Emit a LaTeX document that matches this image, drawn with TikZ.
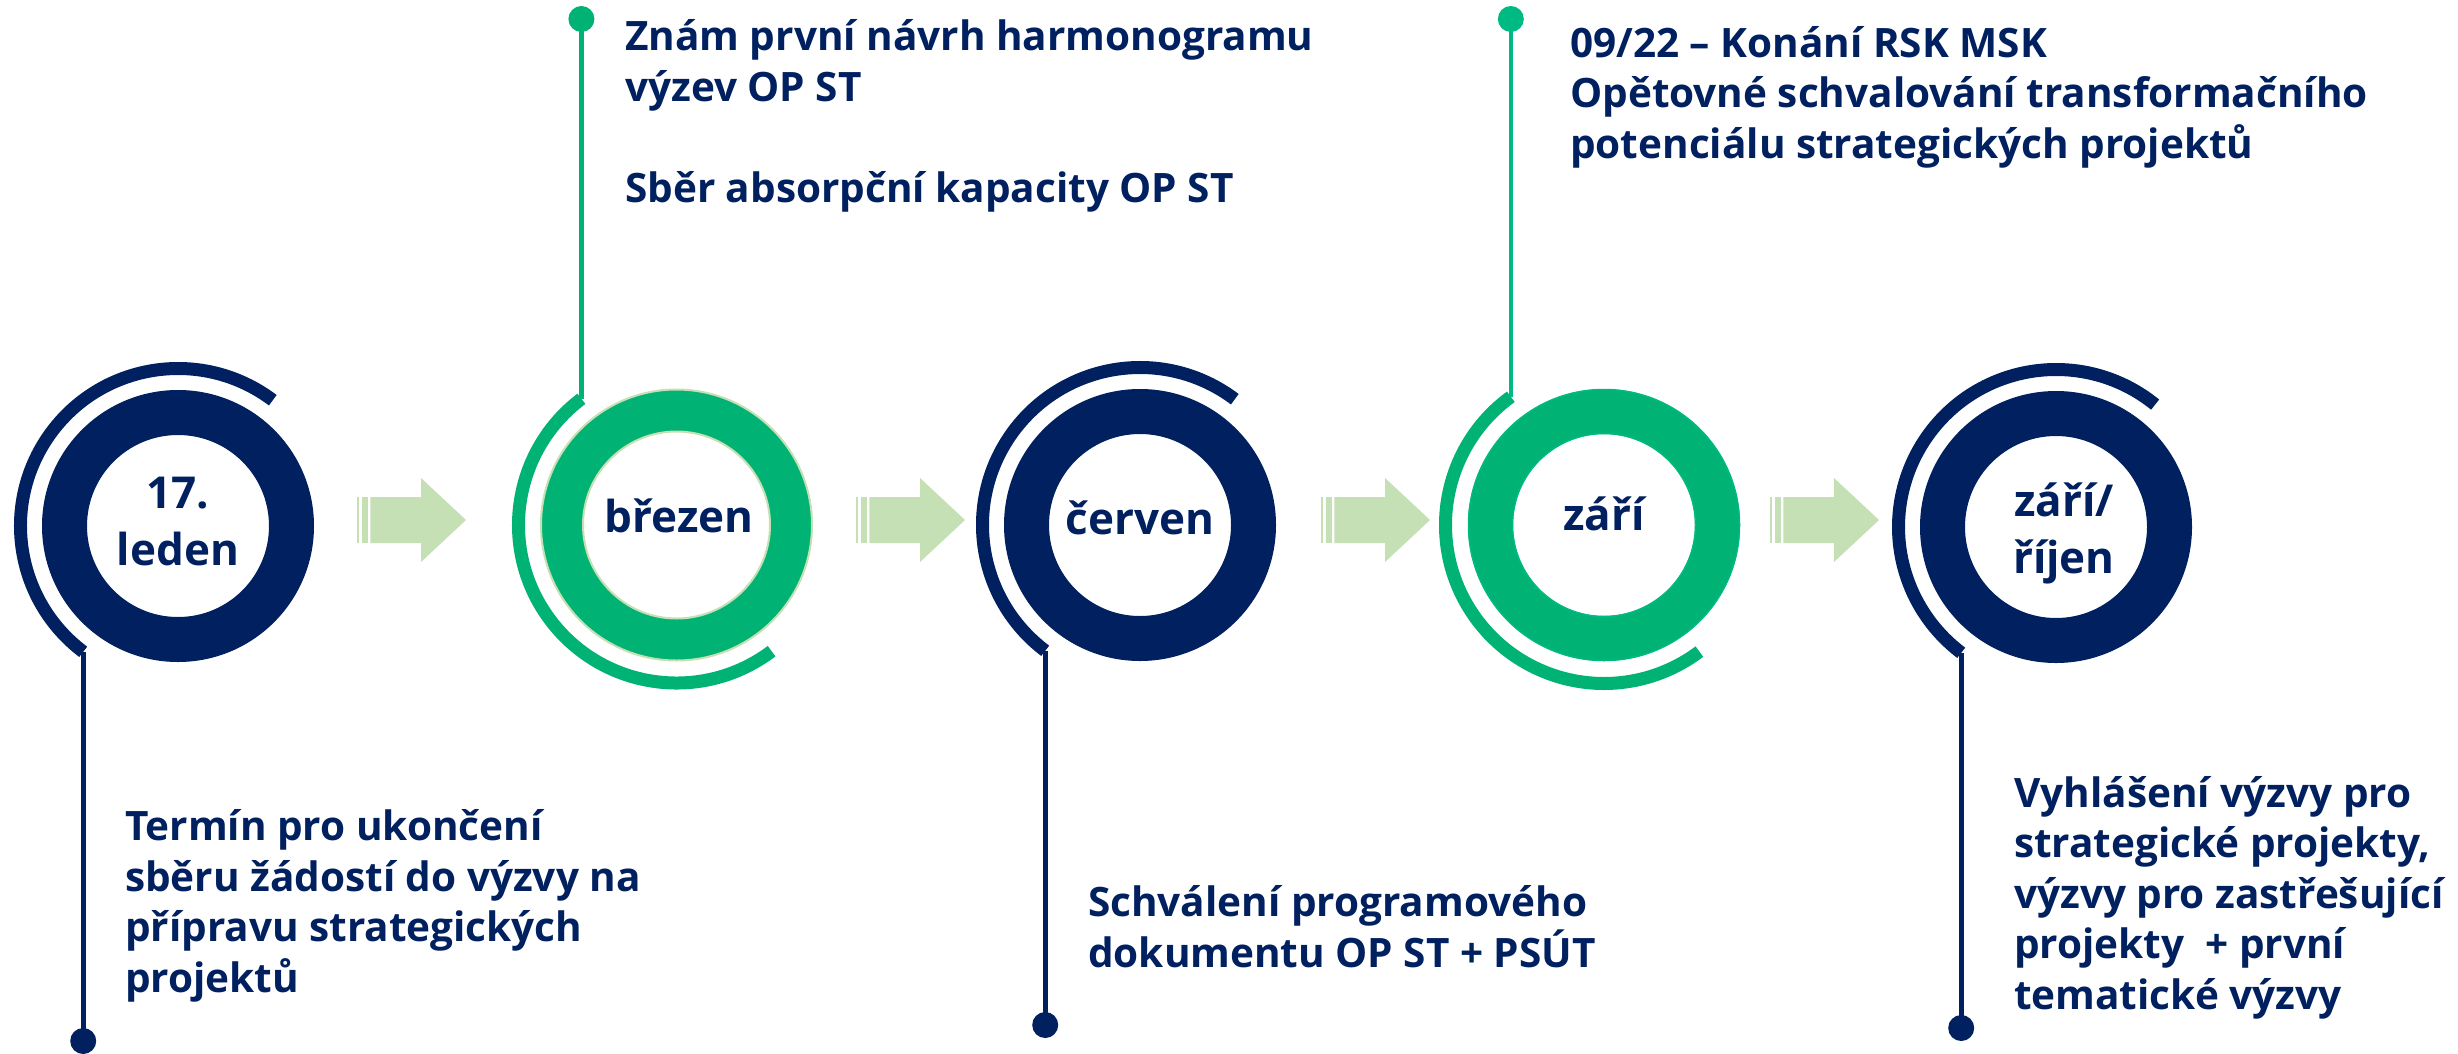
\documentclass[tikz,border=0pt]{standalone}
\usepackage{fontspec}
\setmainfont{Open Sans}
\usetikzlibrary{calc}
\definecolor{navy}{HTML}{002060}
\definecolor{grn}{HTML}{00B274}
\definecolor{grnB}{HTML}{00BA84}
\definecolor{pale}{HTML}{C5E0B4}
\tikzset{
  ringspot/.style={circle, inner sep=0pt, minimum size=272pt},
  outerarc/.style={line width=13pt},
  stem/.style={line width=4.7pt},
  enddot/.style={circle, inner sep=0pt, minimum size=26pt, fill=#1},
  monthlabel/.style={anchor=base, align=center, inner sep=0pt, text=navy,
    font=\bfseries\fontsize{44}{57}\selectfont},
  info/.style={anchor=base west, align=left, inner sep=0pt, text=navy,
    font=\bfseries\fontsize{40.5}{50.5}\selectfont},
  flowarr/.pic={
    \fill[pale] (0,-23) rectangle (2.3,23);
    \fill[pale] (4.6,-23) rectangle (10.8,23);
    \fill[pale] (13.3,23) -- (64,23) -- (64,42) -- (109,0) -- (64,-42) -- (64,-23) -- (13.3,-23) -- cycle;
  }
}
\begin{document}
\begin{tikzpicture}[x=1pt,y=1pt]
\useasboundingbox (0,0) rectangle (2458,-1053);
\fill[white] (0,0) rectangle (2458,-1053);

% flow arrows
\pic at (357,-520) {flowarr};
\pic at (856,-520) {flowarr};
\pic at (1321,-520) {flowarr};
\pic at (1770,-520) {flowarr};

% --- 1: 17. leden
\node[ringspot] (c1) at (178,-526) {};
\fill[navy, even odd rule] (c1.center) circle[radius=136pt] circle[radius=91pt];
\draw[navy, outerarc] ($(c1.center)+(53:157.5pt)$) arc[start angle=53, end angle=233, radius=157.5pt];
\coordinate (e1) at ($(c1.center)+(233:157.5pt)$);
\node[enddot=navy] (d1) at (e1 |- 0,-1041) {};
\draw[navy, stem] (e1) -- (d1.center);
\node[monthlabel] (m1) at (178,-565) {17.\\leden};

% --- 2: březen
\node[ringspot] (c2) at (676.5,-525) {};
\fill[grn, even odd rule] (c2.center) circle[radius=135.5pt] circle[radius=93.5pt];
\draw[pale, line width=2pt] (c2.center) circle[radius=93.5pt] (c2.center) circle[radius=135.5pt];
\draw[grn, outerarc] ($(c2.center)+(127:158pt)$) arc[start angle=127, end angle=307, radius=158pt];
\coordinate (e2) at ($(c2.center)+(127:158pt)$);
\node[enddot=grn] (d2) at (e2 |- 0,-19) {};
\draw[grn, stem] (e2) -- (d2.center);
\node[monthlabel] (m2) at (679,-532) {březen};

% --- 3: červen
\node[ringspot] (c3) at (1140,-525) {};
\fill[navy, even odd rule] (c3.center) circle[radius=136pt] circle[radius=91pt];
\draw[navy, outerarc] ($(c3.center)+(53:157.5pt)$) arc[start angle=53, end angle=233, radius=157.5pt];
\coordinate (e3) at ($(c3.center)+(233:157.5pt)$);
\node[enddot=navy] (d3) at (e3 |- 0,-1025) {};
\draw[navy, stem] (e3) -- (d3.center);
\node[monthlabel] (m3) at (1140,-534) {červen};

% --- 4: září
\node[ringspot] (c4) at (1604,-525) {};
\fill[grn, even odd rule] (c4.center) circle[radius=136pt] circle[radius=91pt];
\draw[grnB, line width=1.5pt] (c4.center) circle[radius=91.5pt] (c4.center) circle[radius=135.5pt];
\draw[grn, outerarc] ($(c4.center)+(126:158.5pt)$) arc[start angle=126, end angle=307, radius=158.5pt];
\coordinate (e4) at ($(c4.center)+(126:158.5pt)$);
\node[enddot=grnB] (d4) at (e4 |- 0,-19) {};
\draw[grnB, stem] (e4) -- (d4.center);
\node[monthlabel] (m4) at (1604,-530) {září};

% --- 5: září/říjen
\node[ringspot] (c5) at (2056,-527) {};
\fill[navy, even odd rule] (c5.center) circle[radius=136pt] circle[radius=91pt];
\draw[navy, outerarc] ($(c5.center)+(51:157.5pt)$) arc[start angle=51, end angle=233, radius=157.5pt];
\coordinate (e5) at ($(c5.center)+(233:157.5pt)$);
\node[enddot=navy] (d5) at (e5 |- 0,-1028) {};
\draw[navy, stem] (e5) -- (d5.center);
\node[monthlabel] (m5) at (2064,-573) {září/\\říjen};

% --- texts (anchor = baseline of last line)
\node[info] (t2) at (625,-202) {Znám první návrh harmonogramu\\výzev OP ST\\[50.5pt]Sběr absorpční kapacity OP ST};
\node[info] (t4) at (1570,-158) {09/22 – Konání RSK MSK\\Opětovné schvalování transformačního\\potenciálu strategických projektů};
\node[info] (t1) at (125,-992) {Termín pro ukončení\\sběru žádostí do výzvy na\\přípravu strategických\\projektů};
\node[info] (t3) at (1088,-967) {Schválení programového\\dokumentu OP ST + PSÚT};
\node[info] (t5) at (2014,-1009) {Vyhlášení výzvy pro\\strategické projekty,\\výzvy pro zastřešující\\projekty\ \ + první\\tematické výzvy};
\end{tikzpicture}
\end{document}
